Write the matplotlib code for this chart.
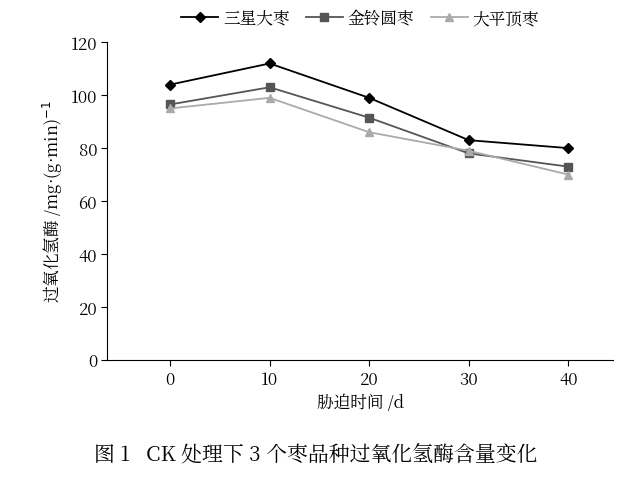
import matplotlib
matplotlib.use("Agg")
import matplotlib.pyplot as plt
from matplotlib import font_manager as fm
import glob

fam = None
for f in fm.findSystemFonts():
    if 'CJK' in f and ('SC' in f or 'Regular' in f or '.ttc' in f):
        try:
            fm.fontManager.addfont(f)
            fam = fm.FontProperties(fname=f).get_name()
            break
        except Exception:
            pass
plt.rcParams['font.family'] = [fam or 'Noto Sans CJK SC', 'DejaVu Sans']

days = [0, 10, 20, 30, 40]
sanxing = [104, 112, 99, 83, 80]
jinling = [96.5, 103, 91.5, 78, 73]
dapingding = [95, 99, 86, 79, 70]
yticks = [0, 20, 40, 60, 80, 100, 120]

fig = plt.figure(figsize=(6.32, 4.81), dpi=100)
ax = fig.add_axes([0.17, 0.25, 0.80, 0.66])
ax.plot(days, sanxing, color='black', marker='D', markersize=5, lw=1.3, label='三星大枣')
ax.plot(days, jinling, color='#555555', marker='s', markersize=6, lw=1.3, label='金铃圆枣')
ax.plot(days, dapingding, color='#aaaaaa', marker='^', markersize=6, lw=1.3, label='大平顶枣')
ax.set_xlim(-6.3, 44.5)
ax.set_ylim(0, 120)
ax.set_xticks(days)
ax.set_yticks(yticks)
for s in ['top', 'right']:
    ax.spines[s].set_visible(False)
ax.tick_params(labelsize=12, direction='out', length=4)
ax.set_xlabel('胁迫时间 /d', fontsize=12)
ax.set_ylabel('过氧化氢酶 /mg·(g·min)$^{-1}$', fontsize=12)
ax.legend(loc='lower center', bbox_to_anchor=(0.5, 1.0), ncol=3, frameon=False,
          fontsize=12, handlelength=2.2, columnspacing=1.0, handletextpad=0.3)
fig.text(0.5, 0.04, '图 1   CK 处理下 3 个枣品种过氧化氢酶含量变化', ha='center', fontsize=15)
fig.savefig('out.png', facecolor='white')
